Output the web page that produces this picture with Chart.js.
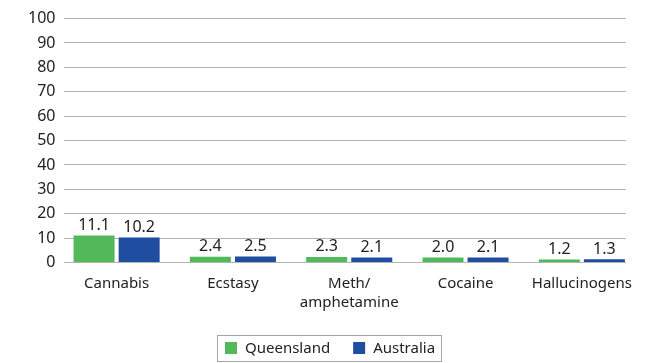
<!DOCTYPE html>
<html>
<head>
<meta charset="utf-8">
<script src="https://cdn.jsdelivr.net/npm/chart.js@4/dist/chart.umd.min.js"></script>
<style>
  html, body { margin: 0; padding: 0; background: #fff; }
  #wrap { width: 645px; height: 363px; position: relative; }
</style>
</head>
<body>
<div id="wrap"><canvas id="drugChart"></canvas></div>
<script>
// chart data
const categories = ['Cannabis', 'Ecstasy', ['Meth/', 'amphetamine'], 'Cocaine', 'Hallucinogens'];
const queensland = [11.1, 2.4, 2.3, 2.0, 1.2];
const australia = [10.2, 2.5, 2.1, 2.1, 1.3];
const yTicks = [0, 10, 20, 30, 40, 50, 60, 70, 80, 90, 100];
const seriesNames = ['Queensland', 'Australia'];
const seriesColors = ['#52b95a', '#1f4ea0'];

const FONT = '"Noto Sans", sans-serif';

// the categories in the original run a little past the gridlines
const stretchX = {
    id: 'stretchX',
    afterLayout(chart) {
        const x = chart.scales.x;
        x.left = chart.chartArea.left - 6;
        x.right = chart.chartArea.right + 14;
        x.width = x.right - x.left;
        x.configure();
    }
};

// draws the value above each bar
const valueLabels = {
    id: 'valueLabels',
    afterDatasetsDraw(chart) {
        const ctx = chart.ctx;
        ctx.save();
        ctx.font = '16px ' + FONT;
        ctx.fillStyle = '#222';
        ctx.textAlign = 'center';
        ctx.textBaseline = 'bottom';
        chart.data.datasets.forEach((ds, i) => {
            chart.getDatasetMeta(i).data.forEach((bar, j) => {
                ctx.fillText(ds.data[j].toFixed(1), bar.x, bar.y - 2);
            });
        });
        ctx.restore();
    }
};

// boxed legend under the chart
const boxedLegend = {
    id: 'boxedLegend',
    afterDraw(chart) {
        const ctx = chart.ctx;
        ctx.save();
        ctx.strokeStyle = '#a6a6a6';
        ctx.lineWidth = 1;
        ctx.strokeRect(217.5, 335.5, 224, 26);
        ctx.font = '15px ' + FONT;
        ctx.textBaseline = 'middle';
        ctx.fillStyle = '#222';
        let x = 225;
        chart.data.datasets.forEach((ds, i) => {
            ctx.fillStyle = ds.backgroundColor;
            ctx.fillRect(x, 342, 12, 12);
            ctx.fillStyle = '#222';
            ctx.fillText(ds.label, x + 20, 348.5);
            x += 20 + ctx.measureText(ds.label).width + 23;
        });
        ctx.restore();
    }
};

const ctx = document.getElementById('drugChart').getContext('2d');
new Chart(ctx, {
    type: 'bar',
    data: {
        labels: categories,
        datasets: [{
            label: seriesNames[0],
            data: queensland,
            backgroundColor: seriesColors[0]
        }, {
            label: seriesNames[1],
            data: australia,
            backgroundColor: seriesColors[1]
        }]
    },
    options: {
        responsive: true,
        maintainAspectRatio: false,
        animation: false,
        datasets: {
            bar: {
                categoryPercentage: 0.775,
                barPercentage: 0.91
            }
        },
        layout: {
            padding: { top: 10, right: 19, left: 19, bottom: 47 }
        },
        scales: {
            y: {
                min: 0,
                max: 100,
                afterBuildTicks(axis) {
                    axis.ticks = yTicks.map(v => ({ value: v }));
                },
                border: { display: false },
                grid: {
                    color: '#b3b3b3',
                    lineWidth: 1,
                    drawTicks: false
                },
                ticks: {
                    color: '#222',
                    padding: 9,
                    font: { family: FONT, size: 16 }
                }
            },
            x: {
                border: { display: false },
                grid: { display: false },
                ticks: {
                    color: '#222',
                    padding: 4,
                    maxRotation: 0,
                    autoSkip: false,
                    font: { family: FONT, size: 15, lineHeight: 1.25 }
                }
            }
        },
        plugins: {
            legend: { display: false },
            tooltip: { enabled: false }
        }
    },
    plugins: [stretchX, valueLabels, boxedLegend]
});
</script>
</body>
</html>
